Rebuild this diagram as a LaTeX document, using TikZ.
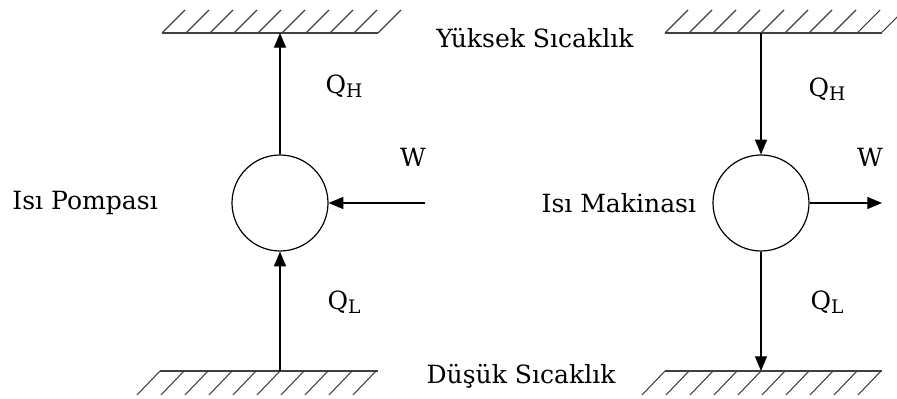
\documentclass[tikz,border=0pt]{standalone}
\usepackage{fontspec}
\setmainfont{DejaVu Serif}
\usetikzlibrary{arrows.meta, positioning}

\begin{document}
\begin{tikzpicture}[
        x=0.75pt, y=-0.75pt,
        flow line/.style={line width=0.9pt, -{Triangle[length=11pt, width=9pt]}},
        wall line/.style={line width=1.1pt, black!75},
        hatch line/.style={line width=0.8pt, black!75},
        machine/.style={circle, draw, line width=0.9pt, minimum size=72pt, inner sep=0pt},
        text label/.style={font=\fontsize{18.8}{22}\selectfont, inner sep=0pt},
    ]
    \useasboundingbox (0,0) rectangle (897,399);

    % Reservoir contact points
    \coordinate (hot left) at (280,33);
    \coordinate (cold left) at (280,371);
    \coordinate (hot right) at (761,33);
    \coordinate (cold right) at (761,371);
    \coordinate (work in) at (425,203);
    \coordinate (work out) at (882,203);

    % Hot reservoirs
    \draw[wall line] (162,33) -- (378,33);
    \draw[wall line] (665,33) -- (882,33);
    \foreach \k in {0,...,9} {
        \draw[hatch line] (162+24*\k,33) -- ++(23,-23);
        \draw[hatch line] (665+24*\k,33) -- ++(23,-23);
    }

    % Cold reservoirs
    \draw[wall line] (160,371) -- (378,371);
    \draw[wall line] (665,371) -- (882,371);
    \foreach \k in {0,...,9} {
        \draw[hatch line] (160+24*\k,371) -- ++(-23,24);
        \draw[hatch line] (665+24*\k,371) -- ++(-23,24);
    }

    % Machines
    \node[machine] (pump) at (280,203) {};
    \node[machine] (engine) at (761,203) {};

    % Heat pump flows
    \draw[flow line] (cold left) -- (pump.south);
    \draw[flow line] (pump.north) -- (hot left);
    \draw[flow line] (work in) -- (pump.east);

    % Heat engine flows
    \draw[flow line] (hot right) -- (engine.north);
    \draw[flow line] (engine.south) -- (cold right);
    \draw[flow line] (engine.east) -- (work out);

    % Labels
    \node[text label, left=55pt of pump] (pump label) {Isı Pompası};
    \node[text label, left=12pt of engine] (engine label) {Isı Makinası};
    \node[text label] (hot label) at (535,38) {Yüksek Sıcaklık};
    \node[text label] (cold label) at (521,376) {Düşük Sıcaklık};
    \node[text label] (w left) at (413,157) {W};
    \node[text label] (w right) at (870,157) {W};
    \node[text label] (qh left) at (344,86) {Q\raisebox{-0.3ex}{\fontsize{14}{16}\selectfont H}};
    \node[text label] (qh right) at (827,89) {Q\raisebox{-0.3ex}{\fontsize{14}{16}\selectfont H}};
    \node[text label] (ql left) at (344,302) {Q\raisebox{-0.3ex}{\fontsize{14}{16}\selectfont L}};
    \node[text label] (ql right) at (827,302) {Q\raisebox{-0.3ex}{\fontsize{14}{16}\selectfont L}};

\end{tikzpicture}
\end{document}
